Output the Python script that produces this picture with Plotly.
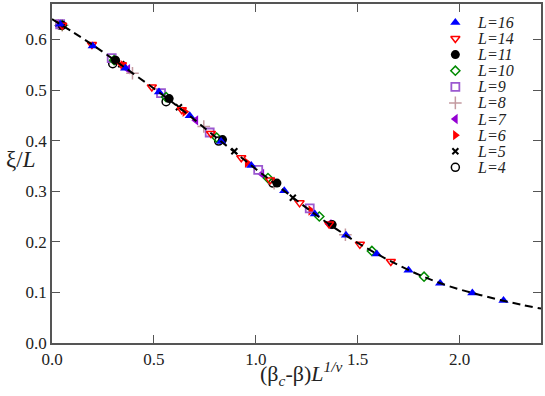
import plotly.graph_objects as go

# scaling curve (dashed line)
curve_x = [0.0, 0.1, 0.2, 0.3, 0.4, 0.5, 0.6, 0.7, 0.8, 0.9, 1.0, 1.1, 1.2,
           1.3, 1.4, 1.5, 1.6, 1.7, 1.8, 1.9, 2.0, 2.1, 2.2, 2.3, 2.4]
curve_y = [0.640, 0.615, 0.589, 0.561, 0.532, 0.503, 0.473, 0.441, 0.408, 0.376,
           0.344, 0.313, 0.282, 0.252, 0.224, 0.198, 0.175, 0.154, 0.135, 0.119,
           0.106, 0.095, 0.085, 0.076, 0.068]

# data points per lattice size
x16 = [0.04, 0.20, 0.36, 0.525, 0.676, 0.83, 0.978, 1.14, 1.29, 1.443, 1.594, 1.75, 1.905, 2.063, 2.216]
y16 = [0.630, 0.587, 0.543, 0.496, 0.449, 0.398, 0.351, 0.301, 0.255, 0.213, 0.176, 0.144, 0.118, 0.099, 0.084]
x14 = [0.05, 0.196, 0.343, 0.49, 0.637, 0.78, 0.929, 1.07, 1.215, 1.36, 1.511, 1.663]
y14 = [0.628, 0.590, 0.550, 0.506, 0.461, 0.414, 0.366, 0.322, 0.277, 0.235, 0.195, 0.161]
x11 = [0.05, 0.312, 0.575, 0.837, 1.104, 1.375]
y11 = [0.628, 0.559, 0.483, 0.402, 0.316, 0.234]
x10 = [0.05, 0.305, 0.56, 0.808, 1.06, 1.312, 1.57, 1.826]
y10 = [0.628, 0.559, 0.486, 0.406, 0.326, 0.250, 0.182, 0.131]
x9 = [0.04, 0.293, 0.535, 0.774, 1.012, 1.265]
y9 = [0.630, 0.563, 0.494, 0.416, 0.342, 0.266]
x8 = [0.05, 0.395, 0.745, 1.09, 1.44]
y8 = [0.628, 0.533, 0.428, 0.316, 0.214]
x7 = [0.04, 0.372, 0.706, 1.03, 1.36]
y7 = [0.630, 0.541, 0.440, 0.334, 0.235]
x6 = [0.04, 0.348, 0.652, 0.958, 1.27]
y6 = [0.630, 0.549, 0.457, 0.356, 0.262]
x5 = [0.03, 0.34, 0.623, 0.895, 1.182]
y5 = [0.632, 0.551, 0.466, 0.379, 0.287]
x4 = [0.04, 0.298, 0.56, 0.818, 1.084]
y4 = [0.628, 0.552, 0.477, 0.399, 0.316]

labels = ['L=16', 'L=14', 'L=11', 'L=10', 'L=9', 'L=8', 'L=7', 'L=6', 'L=5', 'L=4']
series = [(x16, y16), (x14, y14), (x11, y11), (x10, y10), (x9, y9),
          (x8, y8), (x7, y7), (x6, y6), (x5, y5), (x4, y4)]
symbols = ['triangle-up', 'triangle-down-open', 'circle', 'diamond-open', 'square-open',
           'cross-thin-open', 'triangle-left', 'triangle-right', 'x-thin-open', 'circle-open']
colors = ['#0000ff', '#ff0000', '#000000', '#008b00', '#9b59d0',
          '#c49aa0', '#9400d3', '#ff0000', '#000000', '#000000']
sizes = [9, 8, 9, 7, 8, 9, 9, 9, 6, 8]
lwidths = [0, 1.5, 0, 1.5, 1.8, 1.5, 0, 0, 2, 1.5]

SERIF = 'Times New Roman'

fig = go.Figure()
for (xs, ys), lab, sym, col, sz, lw in zip(series[::-1], labels[::-1], symbols[::-1],
                                           colors[::-1], sizes[::-1], lwidths[::-1]):
    fig.add_trace(go.Scatter(x=xs, y=ys, mode='markers', name=lab, showlegend=False,
                             marker=dict(symbol=sym, size=sz, color=col, opacity=1,
                                         line=dict(color=col, width=lw))))

fig.add_trace(go.Scatter(x=curve_x, y=curve_y, mode='lines', showlegend=False,
                         line=dict(color='black', width=2, dash='8px,5px', shape='spline')))

# hand-made legend on an overlay axis measured in pixels
leg_y = [20.5 + 16.2 * i for i in range(len(labels))]
fig.add_trace(go.Scatter(x=[457] * len(labels), y=leg_y, mode='markers', showlegend=False,
                         xaxis='x2', yaxis='y2', hoverinfo='skip',
                         marker=dict(symbol=symbols, size=sizes, color=colors, opacity=1,
                                     line=dict(color=colors, width=lwidths))))
for lab, yy in zip(labels, leg_y):
    fig.add_annotation(x=477, y=yy, xref='x2', yref='y2', text='<i>' + lab + '</i>',
                       showarrow=False, xanchor='left', yanchor='middle',
                       font=dict(family=SERIF, size=16, color='#222'))

# axis titles in paper coordinates (plot area 52..543 x 2..343 px)
fig.add_annotation(x=(20 - 52) / 491, y=(343 - 158) / 341, xref='paper', yref='paper',
                   text='ξ/<i>L</i>', showarrow=False, xanchor='center', yanchor='middle',
                   font=dict(family=SERIF, size=23, color='#222'))
fig.add_annotation(x=(259 - 52) / 491, y=(343 - 374) / 341, xref='paper', yref='paper',
                   text='(β<sub><i>c</i></sub>-β)<i>L</i><sup><i>1/ν</i></sup>',
                   showarrow=False, xanchor='left', yanchor='middle',
                   font=dict(family=SERIF, size=22, color='#222'))

axis_style = dict(showline=True, linecolor='#555', linewidth=1.5, mirror='ticks',
                  ticks='inside', ticklen=8, tickcolor='#555', tickwidth=1.2,
                  showgrid=False, zeroline=False, tickformat='.1f',
                  tickfont=dict(family=SERIF, size=17, color='#222'))

fig.update_layout(
    width=545, height=396,
    margin=dict(l=52, r=2, t=2, b=53),
    font=dict(family=SERIF, color='#222'),
    paper_bgcolor='white', plot_bgcolor='white',
    xaxis=dict(range=[0, 2.4], dtick=0.5, **axis_style),
    yaxis=dict(range=[0, 0.67], dtick=0.1, **axis_style),
    xaxis2=dict(range=[52, 543], overlaying='x', visible=False, fixedrange=True),
    yaxis2=dict(range=[343, 2], overlaying='y', visible=False, fixedrange=True),
)

fig.write_html("out.html", config={'displayModeBar': False},
               post_script="document.body.style.margin='0px';")
